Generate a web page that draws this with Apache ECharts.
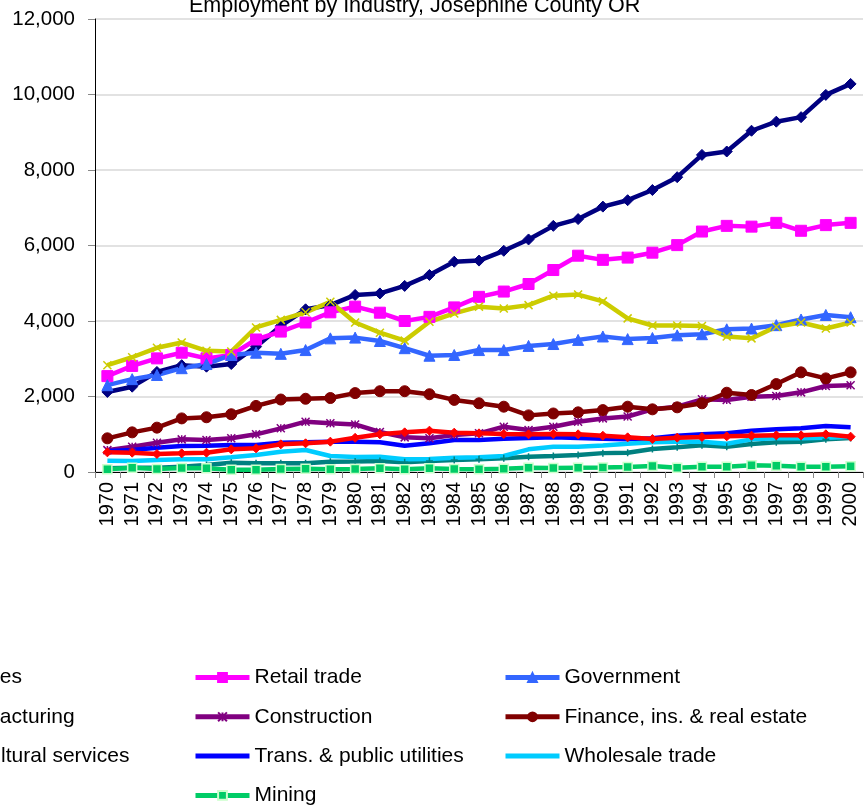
<!DOCTYPE html>
<html>
<head>
<meta charset="utf-8">
<title>Employment by Industry, Josephine County OR</title>
<script src="https://cdn.jsdelivr.net/npm/echarts@6/dist/echarts.min.js"></script>
<style>
  html, body { margin: 0; padding: 0; background: #fff; }
  #chart { width: 865px; height: 805px; }
</style>
</head>
<body>
<div id="chart"></div>
<script>
// years on the x axis
var years = [];
for (var y = 1970; y <= 2000; y++) years.push(String(y));

// employment
var services = [2120, 2260, 2650, 2830, 2790, 2860, 3320, 3870, 4310, 4420, 4690, 4730, 4930, 5220, 5570, 5600, 5860, 6160, 6520, 6700, 7030, 7200, 7470, 7810, 8400, 8490, 9040, 9280, 9400, 9990, 10280];
var retail = [2540, 2810, 3010, 3160, 3010, 3100, 3510, 3720, 3960, 4230, 4380, 4220, 4000, 4110, 4360, 4640, 4780, 4980, 5350, 5730, 5620, 5680, 5810, 6010, 6370, 6520, 6500, 6600, 6390, 6540, 6600];
var government = [2300, 2460, 2570, 2750, 2860, 3100, 3160, 3130, 3230, 3540, 3560, 3470, 3280, 3080, 3100, 3230, 3230, 3340, 3390, 3500, 3590, 3520, 3550, 3620, 3650, 3780, 3800, 3890, 4040, 4160, 4100];
var manufacturing = [2830, 3040, 3290, 3430, 3210, 3190, 3830, 4030, 4230, 4510, 3960, 3690, 3480, 3980, 4200, 4380, 4330, 4420, 4670, 4700, 4520, 4070, 3880, 3880, 3870, 3590, 3540, 3850, 3960, 3800, 3960];
var construction = [580, 671, 777, 865, 848, 892, 998, 1157, 1333, 1290, 1260, 1060, 918, 892, 980, 1024, 1200, 1113, 1200, 1333, 1420, 1470, 1660, 1730, 1925, 1907, 1995, 2013, 2110, 2278, 2296];
var finance = [892, 1050, 1175, 1420, 1450, 1530, 1750, 1920, 1940, 1960, 2090, 2140, 2140, 2060, 1910, 1820, 1730, 1500, 1550, 1580, 1640, 1730, 1660, 1713, 1820, 2100, 2040, 2330, 2640, 2480, 2640];
var agServices = [97, 115, 115, 141, 185, 247, 230, 230, 230, 274, 280, 291, 256, 291, 318, 335, 362, 406, 424, 450, 500, 510, 609, 653, 706, 671, 742, 786, 804, 865, 900];
var transport = [556, 583, 645, 689, 698, 715, 715, 777, 786, 804, 804, 786, 698, 760, 848, 848, 880, 900, 920, 900, 880, 870, 892, 962, 998, 1024, 1095, 1130, 1157, 1219, 1183];
var wholesale = [300, 291, 318, 335, 335, 388, 450, 539, 583, 424, 400, 406, 335, 344, 380, 388, 424, 600, 671, 671, 700, 750, 790, 800, 800, 750, 865, 892, 892, 910, 936];
var farm = [521, 512, 477, 494, 512, 600, 627, 733, 760, 804, 905, 998, 1050, 1095, 1042, 1024, 1007, 998, 1007, 998, 960, 918, 874, 910, 927, 945, 962, 971, 971, 998, 936];
var mining = [70, 115, 80, 106, 97, 62, 62, 80, 88, 70, 80, 97, 70, 97, 80, 70, 88, 115, 106, 115, 120, 132, 159, 115, 141, 141, 177, 168, 141, 141, 150];

var FONT = 'Arial, "Liberation Sans", sans-serif';
var xSym = 'path://M0,0L10,10M10,0L0,10';
var starSym = 'path://M0,0L10,10M10,0L0,10M5,0L5,10';
var plusSym = 'path://M5,0L5,10M0,5L10,5';

function line(name, data, color, symbol, size, extra) {
  var s = {
    name: name,
    type: 'line',
    data: data,
    symbol: symbol,
    symbolSize: size,
    showSymbol: symbol !== 'none',
    lineStyle: { color: color, width: 4.5 },
    itemStyle: { color: color, borderColor: color, borderWidth: 1 },
    animation: false
  };
  if (extra) s.itemStyle = extra;
  return s;
}

// plain line in the legend, no marker
function plain(name) {
  return { name: name, itemStyle: { opacity: 0 } };
}

var legendBase = {
  orient: 'vertical',
  top: 667,
  height: 160,
  padding: 0,
  itemWidth: 54,
  itemHeight: 11,
  itemGap: 18.3,
  lineStyle: { width: 5 },
  textStyle: { fontFamily: FONT, fontSize: 21, color: '#000', lineHeight: 21 }
};

var chart = echarts.init(document.getElementById('chart'));
chart.setOption({
  backgroundColor: '#fff',
  title: {
    text: 'Employment by Industry, Josephine County OR',
    left: 184,
    top: -10,
    textStyle: { fontFamily: FONT, fontSize: 21.5, fontWeight: 'normal', color: '#000' }
  },
  legend: [
    Object.assign({ left: -120, data: ['Services', 'Manufacturing', 'Agricultural services', 'Farm'] }, legendBase),
    Object.assign({ left: 193, data: ['Retail trade', 'Construction', plain('Trans. & public utilities'), 'Mining'] }, legendBase),
    Object.assign({ left: 503, data: ['Government', 'Finance, ins. & real estate', plain('Wholesale trade')] }, legendBase)
  ],
  grid: { left: 95, right: 2, top: 19, bottom: 333 },
  xAxis: {
    type: 'category',
    data: years,
    boundaryGap: true,
    axisLine: { lineStyle: { color: '#000', width: 1 } },
    axisTick: { show: true, length: 6, lineStyle: { color: '#888' } },
    axisLabel: { rotate: 90, interval: 0, margin: 10, fontFamily: FONT, fontSize: 20, color: '#000' }
  },
  yAxis: {
    type: 'value',
    min: 0,
    max: 12000,
    interval: 2000,
    axisLine: { show: true, lineStyle: { color: '#000', width: 1 } },
    axisTick: { show: true, length: 7, lineStyle: { color: '#888' } },
    splitLine: { lineStyle: { color: '#d9d9d9', width: 1.5 } },
    axisLabel: {
      margin: 20,
      fontFamily: FONT,
      fontSize: 20.5,
      color: '#000',
      formatter: function (v) { return v.toLocaleString('en-US'); }
    }
  },
  series: [
    line('Services', services, '#000080', 'diamond', 11),
    line('Retail trade', retail, '#ff00ff', 'rect', 11),
    line('Government', government, '#3366ff', 'triangle', 11),
    line('Manufacturing', manufacturing, '#cccc00', xSym, 8, { color: '#cccc00', borderColor: '#cccc00', borderWidth: 1.5 }),
    line('Construction', construction, '#800080', starSym, 8, { color: '#800080', borderColor: '#800080', borderWidth: 1.5 }),
    line('Finance, ins. & real estate', finance, '#800000', 'circle', 11),
    line('Agricultural services', agServices, '#008080', plusSym, 7, { color: '#008080', borderColor: '#008080', borderWidth: 1.5 }),
    line('Trans. & public utilities', transport, '#0000ff', 'none', 0),
    line('Wholesale trade', wholesale, '#00ccff', 'none', 0),
    line('Farm', farm, '#ff0000', 'diamond', 9),
    line('Mining', mining, '#00cc66', 'rect', 9, { color: '#00cc66', borderColor: '#ccffcc', borderWidth: 1.5 })
  ]
});
</script>
</body>
</html>
